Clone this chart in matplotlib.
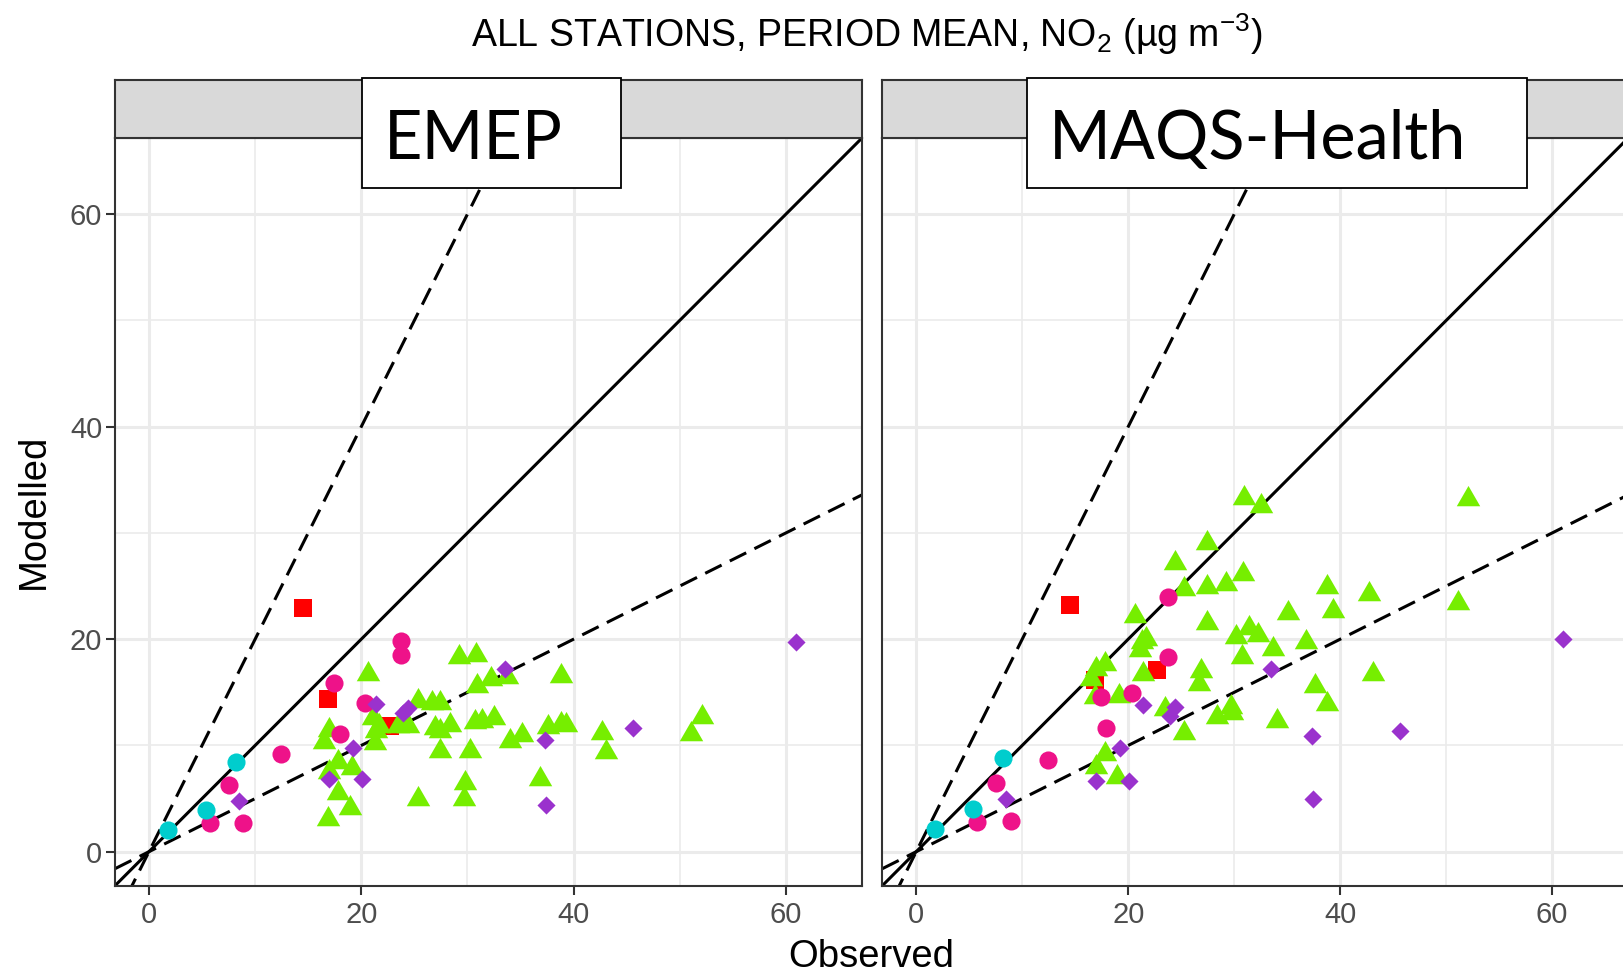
import numpy as np
import matplotlib
matplotlib.use("Agg")
import matplotlib.pyplot as plt
from matplotlib.path import Path
from matplotlib.patches import Rectangle

plt.rcParams['font.family'] = ['Liberation Sans', 'DejaVu Sans']
plt.rcParams['mathtext.fontset'] = 'custom'
plt.rcParams['mathtext.rm'] = 'Liberation Sans'
plt.rcParams['mathtext.it'] = 'Liberation Sans:italic'
plt.rcParams['mathtext.bf'] = 'Liberation Sans:bold'

# station groups: observed values shared, modelled per model
cyan_obs = [1.8, 5.35, 8.2]
cyan_emep = [2.07, 3.95, 8.47]
cyan_maqs = [2.1, 4.0, 8.8]

pink_obs = [23.75, 23.75, 17.4, 20.35, 17.95, 12.4, 7.55, 5.75, 8.9]
pink_emep = [19.85, 18.5, 15.9, 13.95, 11.1, 9.2, 6.3, 2.7, 2.7]
pink_maqs = [24.0, 18.35, 14.6, 14.9, 11.6, 8.6, 6.45, 2.8, 2.9]

red_obs = [14.5, 16.9, 22.75]
red_emep = [22.9, 14.4, 11.8]
red_maqs = [23.2, 16.2, 17.1]

purple_obs = [8.5, 17.0, 19.2, 20.1, 21.4, 23.9, 24.4, 33.5, 37.3, 37.4, 45.6, 61.0]
purple_emep = [4.8, 6.8, 9.8, 6.8, 13.9, 13.1, 13.5, 17.2, 10.5, 4.4, 11.6, 19.7]
purple_maqs = [5.0, 6.7, 9.8, 6.7, 13.8, 12.8, 13.6, 17.2, 10.9, 5.0, 11.4, 20.0]

green_obs = [16.5, 16.9, 17.0, 17.0, 17.8, 17.8, 18.9, 19.1, 20.6, 21.1, 21.3, 21.4,
             21.7, 23.5, 24.4, 25.3, 25.3, 26.7, 26.9, 27.4, 27.4, 27.4, 28.4, 29.2,
             29.7, 29.8, 30.2, 30.7, 30.8, 30.9, 31.4, 32.2, 32.5, 33.7, 34.0, 35.1,
             36.8, 37.6, 38.8, 38.8, 39.3, 42.7, 43.1, 51.1, 52.1]
green_emep = [10.3, 3.1, 11.5, 7.5, 8.4, 5.5, 4.1, 7.85, 16.7, 12.6, 10.2, 11.4,
              11.8, 11.8, 11.85, 14.15, 4.95, 14.0, 11.6, 14.0, 11.4, 9.5, 11.9, 18.3,
              4.95, 6.5, 9.5, 12.2, 18.5, 15.6, 12.3, 16.25, 12.6, 16.4, 10.45, 11.0,
              6.85, 11.7, 16.55, 12.0, 11.9, 11.2, 9.35, 11.1, 12.7]
green_maqs = [16.25, 14.6, 17.2, 7.95, 17.65, 9.2, 7.0, 14.7, 22.2, 19.0, 19.75, 16.7,
              20.0, 13.4, 27.2, 24.7, 11.2, 15.8, 17.0, 24.9, 29.1, 21.5, 12.7, 25.2,
              13.6, 13.1, 20.2, 18.3, 26.1, 33.3, 21.1, 20.4, 32.55, 19.1, 12.3, 22.5,
              19.75, 15.6, 24.9, 13.9, 22.7, 24.3, 16.7, 23.4, 33.2]

ticks = [0, 20, 40, 60]
minor = [10, 30, 50]
lims = (-3.2, 67.2)

# R-style triangle (centroid at the point)
tri = Path([(0, 1), (-0.866, -0.5), (0.866, -0.5), (0, 1)],
           [Path.MOVETO, Path.LINETO, Path.LINETO, Path.CLOSEPOLY])

W, H = 1624, 974
fig = plt.figure(figsize=(W / 100, H / 100), dpi=100)


def fx(px):
    return px / W


def fy(py):
    return 1 - py / H


def draw_panel(x0, x1, mods, label, box, show_y):
    ax = fig.add_axes([fx(x0), fy(885.7), fx(x1 - x0), (885.7 - 137.7) / H])
    ax.set_xlim(lims)
    ax.set_ylim(lims)
    ax.set_xticks(ticks)
    ax.set_yticks(ticks)
    ax.set_xticks(minor, minor=True)
    ax.set_yticks(minor, minor=True)
    ax.grid(True, which='major', color='#EBEBEB', lw=2.2, zorder=0)
    ax.grid(True, which='minor', color='#EBEBEB', lw=1.2, zorder=0)
    ax.set_axisbelow(True)
    for s in ax.spines.values():
        s.set_color('#333333')
        s.set_linewidth(1.5)
    ax.tick_params(which='major', length=6.2, width=1.5, color='#333333',
                   labelsize=21, labelcolor='#4D4D4D', pad=3)
    ax.tick_params(axis='x', which='major', pad=5)
    ax.tick_params(which='minor', length=0)
    if not show_y:
        ax.tick_params(axis='y', which='both', left=False, labelleft=False)

    xs = np.array(lims)
    dash = (0, (6.0, 3.0))
    ax.plot(xs, xs, color='black', lw=2.2, zorder=2)
    ax.plot(xs, 2 * xs, color='black', lw=2.2, ls=dash, zorder=2)
    ax.plot(xs, 0.5 * xs, color='black', lw=2.2, ls=dash, zorder=2)

    cyan, pink, red, purple, green = mods
    ax.scatter(red_obs, red, marker='s', s=160, color='#FF0000', lw=0, zorder=3)
    ax.scatter(green_obs, green, marker=tri, s=380, color='#76EE00', lw=0, zorder=4)
    ax.scatter(pink_obs, pink, marker='o', s=170, color='#EE1289', lw=0, zorder=5)
    ax.scatter(cyan_obs, cyan, marker='o', s=170, color='#00CDCD', lw=0, zorder=5)
    ax.scatter(purple_obs, purple, marker='D', s=85, color='#9A32CD', lw=0, zorder=6)

    strip = fig.add_axes([fx(x0), fy(137.7), fx(x1 - x0), (137.7 - 79.7) / H])
    strip.set_facecolor('#D9D9D9')
    strip.set_xticks([])
    strip.set_yticks([])
    for s in strip.spines.values():
        s.set_color('#333333')
        s.set_linewidth(1.5)

    bx0, bx1 = box
    fig.patches.append(Rectangle((fx(bx0), fy(187.5)), fx(bx1 - bx0), (187.5 - 77.7) / H,
                                 transform=fig.transFigure, facecolor='white',
                                 edgecolor='black', lw=1.3, zorder=10))
    fig.text(fx(bx0 + 21), fy(158.5), label, fontsize=48, family='Lato',
             ha='left', va='baseline', zorder=11)
    return ax


draw_panel(115, 862.3, (cyan_emep, pink_emep, red_emep, purple_emep, green_emep),
           'EMEP', (362.5, 621.4), True)
draw_panel(882.3, 1628.5, (cyan_maqs, pink_maqs, red_maqs, purple_maqs, green_maqs),
           'MAQS-Health', (1027.4, 1526.6), False)

fig.text(fx(867), fy(34), r'ALL STATIONS, PERIOD MEAN, NO$_2$ (µg m$^{-3}$)',
         fontsize=27, ha='center', va='center')
fig.text(fx(871), fy(957), 'Observed', fontsize=27.5, ha='center', va='center')
fig.text(fx(34), fy(511.7), 'Modelled', fontsize=27.5, ha='center', va='center',
         rotation=90)

fig.savefig('out.png', dpi=100)
